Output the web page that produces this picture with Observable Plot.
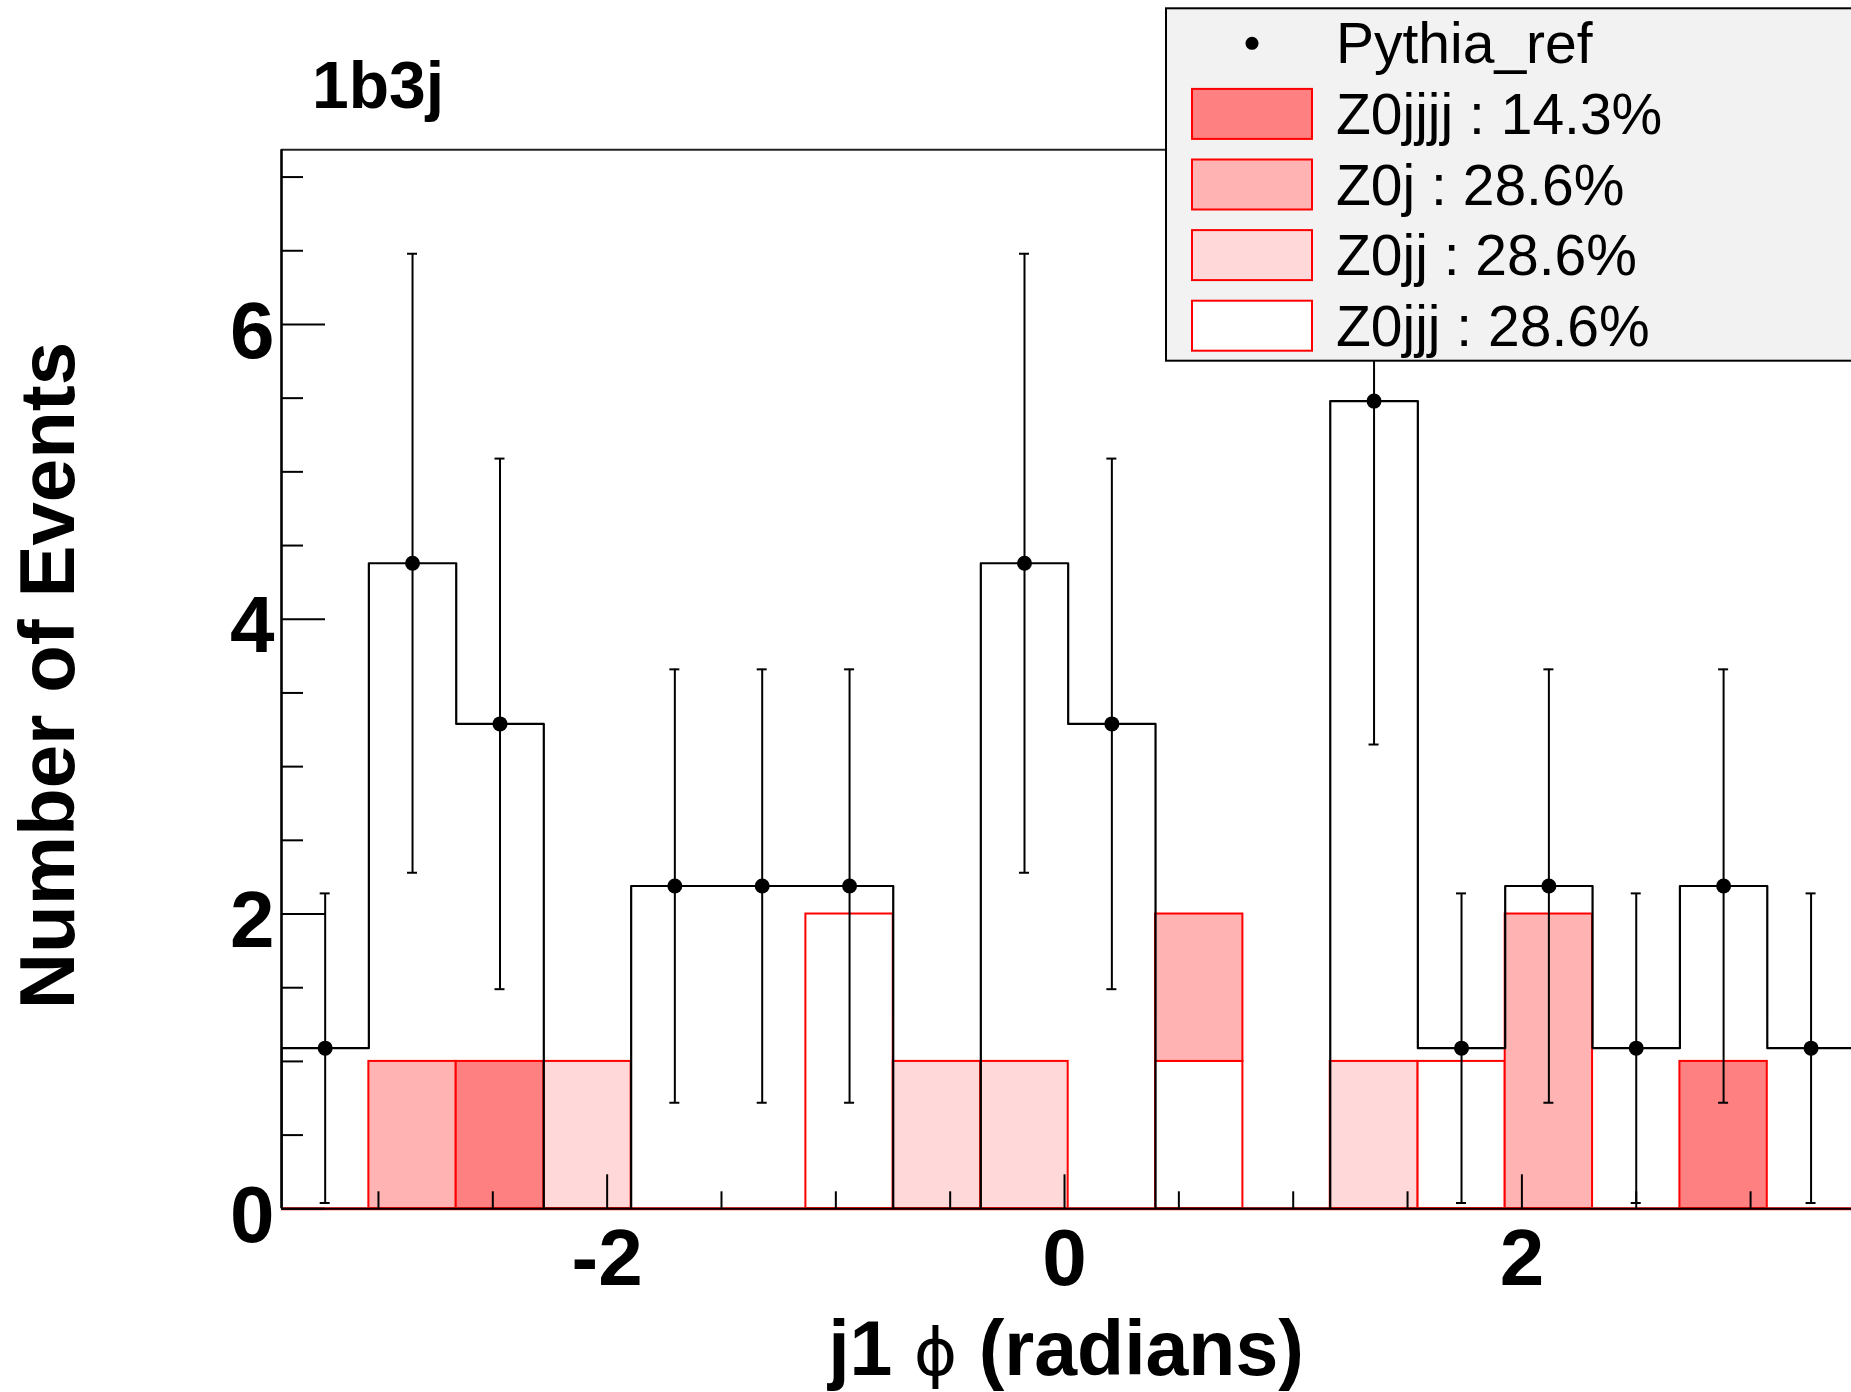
<!DOCTYPE html>
<html><head><meta charset="utf-8">
<script src="https://cdn.jsdelivr.net/npm/d3@7"></script>
<script src="https://cdn.jsdelivr.net/npm/@observablehq/plot@0.6"></script>
<style>
html,body{margin:0;padding:0;background:#fff;}
#chart{width:1851px;height:1392px;position:relative;overflow:hidden;}
</style>
</head><body><div id="chart"></div>
<script>
// ---- data ----
const binEdges = [-3.424, -3.042, -2.660, -2.277, -1.895, -1.513, -1.131, -0.749, -0.366, 0.016,
                  0.398, 0.780, 1.162, 1.545, 1.927, 2.309, 2.691, 3.073, 3.456];
const pythiaValues = [1.09, 4.38, 3.29, 0, 2.19, 2.19, 2.19, 0, 4.38, 3.29, 0, 0, 5.48, 1.09, 2.19, 1.09, 2.19, 1.09];
const pythiaErrors = [1.05, 2.10, 1.80, 0, 1.47, 1.47, 1.47, 0, 2.10, 1.80, 0, 0, 2.33, 1.05, 1.47, 1.05, 1.47, 1.05];
const z0jjj  = [0, 0, 0, 0, 0, 0, 2, 0, 0, 0, 1, 0, 0, 1, 0, 0, 0, 0];
const z0jj   = [0, 0, 0, 1, 0, 0, 0, 1, 1, 0, 0, 0, 1, 0, 0, 0, 0, 0];
const z0j    = [0, 1, 0, 0, 0, 0, 0, 0, 0, 0, 1, 0, 0, 0, 2, 0, 0, 0];
const z0jjjj = [0, 0, 1, 0, 0, 0, 0, 0, 0, 0, 0, 0, 0, 0, 0, 0, 1, 0];
const stackOrder = ["Z0jjj", "Z0jj", "Z0j", "Z0jjjj"];           // bottom -> top
const stackColors = ["#ffffff", "#ffd9d9", "#ffb3b3", "#ff8080"];
const legendNames = ["Pythia_ref", "Z0jjjj : 14.3%", "Z0j : 28.6%", "Z0jj : 28.6%", "Z0jjj : 28.6%"];
const legendColors = [null, "#ff8080", "#ffb3b3", "#ffd9d9", "#ffffff"];
const yMajorTicks = [0, 2, 4, 6];
const yMinorTicks = [0.5, 1, 1.5, 2.5, 3, 3.5, 4.5, 5, 5.5, 6.5, 7];
const xMajorTicks = [-2, 0, 2];
const xMinorTicks = [-3, -2.5, -1.5, -1, -0.5, 0.5, 1, 1.5, 2.5, 3];
const xDomain = [-3.424, 3.4413];
const yDomain = [0, 7.185];
const titleText = "1b3j";
const yTitle = "Number of Events";

// ---- derived tables ----
const nb = pythiaValues.length;
const layers = [z0jjj, z0jj, z0j, z0jjjj];
const cum = new Array(nb).fill(0);
const stackRects = [];
layers.forEach((vals, li) => {
  vals.forEach((v, i) => {
    if (v > 0) stackRects.push({x1: binEdges[i], x2: binEdges[i + 1], y1: cum[i], y2: cum[i] + v, fill: stackColors[li]});
    cum[i] += v;
  });
});
const points = pythiaValues.map((v, i) => ({
  x: (binEdges[i] + binEdges[i + 1]) / 2, y: v, lo: v - pythiaErrors[i], hi: v + pythiaErrors[i]
})).filter(d => d.y > 0);
const stepPts = [{x: binEdges[0], y: 0}];
pythiaValues.forEach((v, i) => stepPts.push({x: binEdges[i], y: v}));
stepPts.push({x: binEdges[nb], y: pythiaValues[nb - 1]});
stepPts.push({x: binEdges[nb], y: 0});

const FONT = "'Liberation Sans', Arial, Helvetica, sans-serif";
const W = 1851, H = 1392;

const rectMarks = stackColors.map(c =>
  Plot.rect(stackRects.filter(d => d.fill === c), {x1: "x1", x2: "x2", y1: "y1", y2: "y2", fill: c, stroke: "#ff0000", strokeWidth: 2, clip: true})
);

const plot = Plot.plot({
  width: W, height: H,
  marginLeft: 281, marginRight: 0, marginTop: 149.3, marginBottom: 183.7,
  x: {domain: xDomain, axis: null},
  y: {domain: yDomain, axis: null},
  style: {fontFamily: FONT, background: "white"},
  marks: [
    ...rectMarks,
    Plot.ruleY([0], {stroke: "#ff0000", strokeWidth: 3}),
    // pythia histogram outline
    Plot.line(stepPts, {x: "x", y: "y", curve: "step-after", stroke: "black", strokeWidth: 2.2, clip: true}),
    // error bars
    Plot.ruleX(points, {x: "x", y1: "lo", y2: "hi", stroke: "black", strokeWidth: 2, clip: true}),
    Plot.ruleY(points, {x1: "x", x2: "x", y: "lo", insetLeft: -5, insetRight: -5, stroke: "black", strokeWidth: 2, clip: true}),
    Plot.ruleY(points, {x1: "x", x2: "x", y: "hi", insetLeft: -5, insetRight: -5, stroke: "black", strokeWidth: 2, clip: true}),
    Plot.dot(points, {x: "x", y: "y", r: 7.5, fill: "black", stroke: "none"}),
    // frame lines
    Plot.ruleY([yDomain[1]], {stroke: "#222", strokeWidth: 2}),
    Plot.ruleY([0], {stroke: "#000", strokeWidth: 2}),
    Plot.ruleX([xDomain[0]], {stroke: "#000", strokeWidth: 2.6}),
    // y ticks (inward)
    Plot.ruleY(yMajorTicks, {y: d => d, x1: xDomain[0], x2: xDomain[0], insetRight: -44, stroke: "black", strokeWidth: 2}),
    Plot.ruleY(yMinorTicks, {y: d => d, x1: xDomain[0], x2: xDomain[0], insetRight: -22, stroke: "black", strokeWidth: 2}),
    // x ticks (inward)
    Plot.ruleX(xMajorTicks, {x: d => d, y1: 0, y2: 0, insetTop: -34, stroke: "black", strokeWidth: 2}),
    Plot.ruleX(xMinorTicks, {x: d => d, y1: 0, y2: 0, insetTop: -17, stroke: "black", strokeWidth: 2}),
    // tick labels
    Plot.text(yMajorTicks, {x: xDomain[0], y: d => d, text: d => String(d), textAnchor: "end", lineAnchor: "middle",
      dx: -7, dy: 7.5, fontSize: 80, fontWeight: "bold", fill: "black"}),
    Plot.text(xMajorTicks, {x: d => d, y: 0, text: d => (d < 0 ? "-" + (-d) : String(d)), lineAnchor: "top",
      dy: 19, fontSize: 80, fontWeight: "bold", fill: "black"})
  ]
});
document.getElementById("chart").appendChild(plot);

// ---- titles and legend ----
const svg = d3.select(plot);
svg.append("text").attr("x", 312).attr("y", 108).attr("text-anchor", "start").attr("font-family", FONT).attr("font-size", 66)
  .attr("font-weight", "bold").attr("fill", "black").text(titleText);
svg.append("text").attr("transform", "translate(74,675.5) rotate(-90)").attr("text-anchor", "middle")
  .attr("font-family", FONT).attr("font-size", 78).attr("font-weight", "bold").attr("fill", "black").text(yTitle);
const xt = svg.append("text").attr("x", 1066).attr("y", 1375).attr("text-anchor", "middle")
  .attr("font-family", FONT).attr("font-size", 77).attr("font-weight", "bold").attr("fill", "black");
xt.append("tspan").text("j1 ");
xt.append("tspan").attr("font-weight", "normal").attr("font-family", "'DejaVu Sans', sans-serif").attr("font-size", 66).text("\u03D5");
xt.append("tspan").text(" (radians)");

const lg = svg.append("g");
lg.append("rect").attr("x", 1166).attr("y", 8.3).attr("width", 720).attr("height", 352.4)
  .attr("fill", "#f2f2f2").attr("stroke", "black").attr("stroke-width", 2);
legendNames.forEach((name, i) => {
  const cy = 43.3 + i * 70.6;
  if (legendColors[i] === null) {
    lg.append("circle").attr("cx", 1252).attr("cy", cy).attr("r", 6.5).attr("fill", "black");
  } else {
    lg.append("rect").attr("x", 1192).attr("y", cy - 25).attr("width", 120).attr("height", 50)
      .attr("fill", legendColors[i]).attr("stroke", "#ff0000").attr("stroke-width", 2);
  }
  lg.append("text").attr("x", 1336).attr("y", cy + 20).attr("text-anchor", "start").attr("font-family", FONT)
    .attr("font-size", 57).attr("fill", "black").text(name);
});
</script>
</body></html>
